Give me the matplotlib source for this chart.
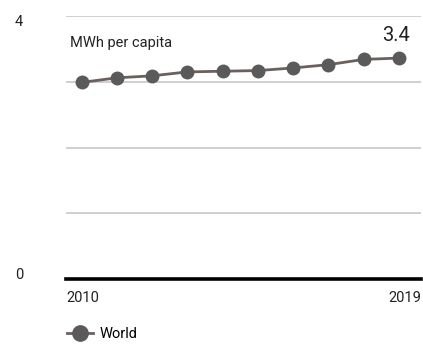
import matplotlib
matplotlib.use("Agg")
import matplotlib.pyplot as plt
from matplotlib import font_manager
from matplotlib.lines import Line2D

names = {f.name for f in font_manager.fontManager.ttflist}
fam = "Liberation Sans Narrow" if "Liberation Sans Narrow" in names else "Roboto"
plt.rcParams["font.family"] = [fam, "DejaVu Sans"]

years = [2010, 2011, 2012, 2013, 2014, 2015, 2016, 2017, 2018, 2019]
world = [2.99, 3.06, 3.09, 3.15, 3.16, 3.17, 3.21, 3.26, 3.34, 3.36]
series_name = "World"
unit_label = "MWh per capita"
end_label = "3.4"
y_ticks = [0, 4]
grid_vals = [1, 2, 3, 4]

line_col = "#6b605c"
mk_col = "#5a5a5a"
txt_col = "#222222"

fig = plt.figure(figsize=(4.23, 3.44), dpi=100)
W, H = 423, 344
ax = fig.add_axes([66 / W, (H - 279) / H, (421 - 66) / W, (279 - 16) / H])
ax.set_xlim(2009.555, 2019.624)
ax.set_ylim(0, 4)
for s in ax.spines.values():
    s.set_visible(False)
ax.set_xticks([])
ax.set_yticks([])
for g in grid_vals:
    ax.axhline(g, color="#cccccc", lw=1.3, zorder=1)
ax.axhline(0, color="black", lw=2.6, zorder=2, clip_on=False)

ax.plot(years, world, color=line_col, lw=2, marker="o", ms=9,
        markerfacecolor=mk_col, markeredgecolor=mk_col, zorder=3, clip_on=False)

fig.text(70 / W, 1 - 43.5 / H, unit_label, fontsize=10.5, va="center", ha="left", color=txt_col)
fig.text(410 / W, 1 - 35.5 / H, end_label, fontsize=14.5, va="center", ha="right", color=txt_col)

fig.text(19 / W, 1 - 22 / H, str(y_ticks[1]), fontsize=10.5, va="center", ha="center", color=txt_col)
fig.text(19 / W, 1 - 275 / H, str(y_ticks[0]), fontsize=10.5, va="center", ha="center", color=txt_col)

fig.text(66 / W, 1 - 298 / H, str(years[0]), fontsize=10.5, va="center", ha="left", color=txt_col)
fig.text(421 / W, 1 - 298 / H, str(years[-1]), fontsize=10.5, va="center", ha="right", color=txt_col)

h = Line2D([0], [0], color=line_col, lw=2, marker="o", ms=11,
           markerfacecolor=mk_col, markeredgecolor=mk_col)
fig.legend([h], [series_name], loc="center left", bbox_to_anchor=(67 / W, 1 - 334 / H),
           frameon=False, fontsize=10.5, handlelength=1.8, handletextpad=0.4,
           borderaxespad=0, borderpad=0)

fig.savefig("out.png", dpi=100)
